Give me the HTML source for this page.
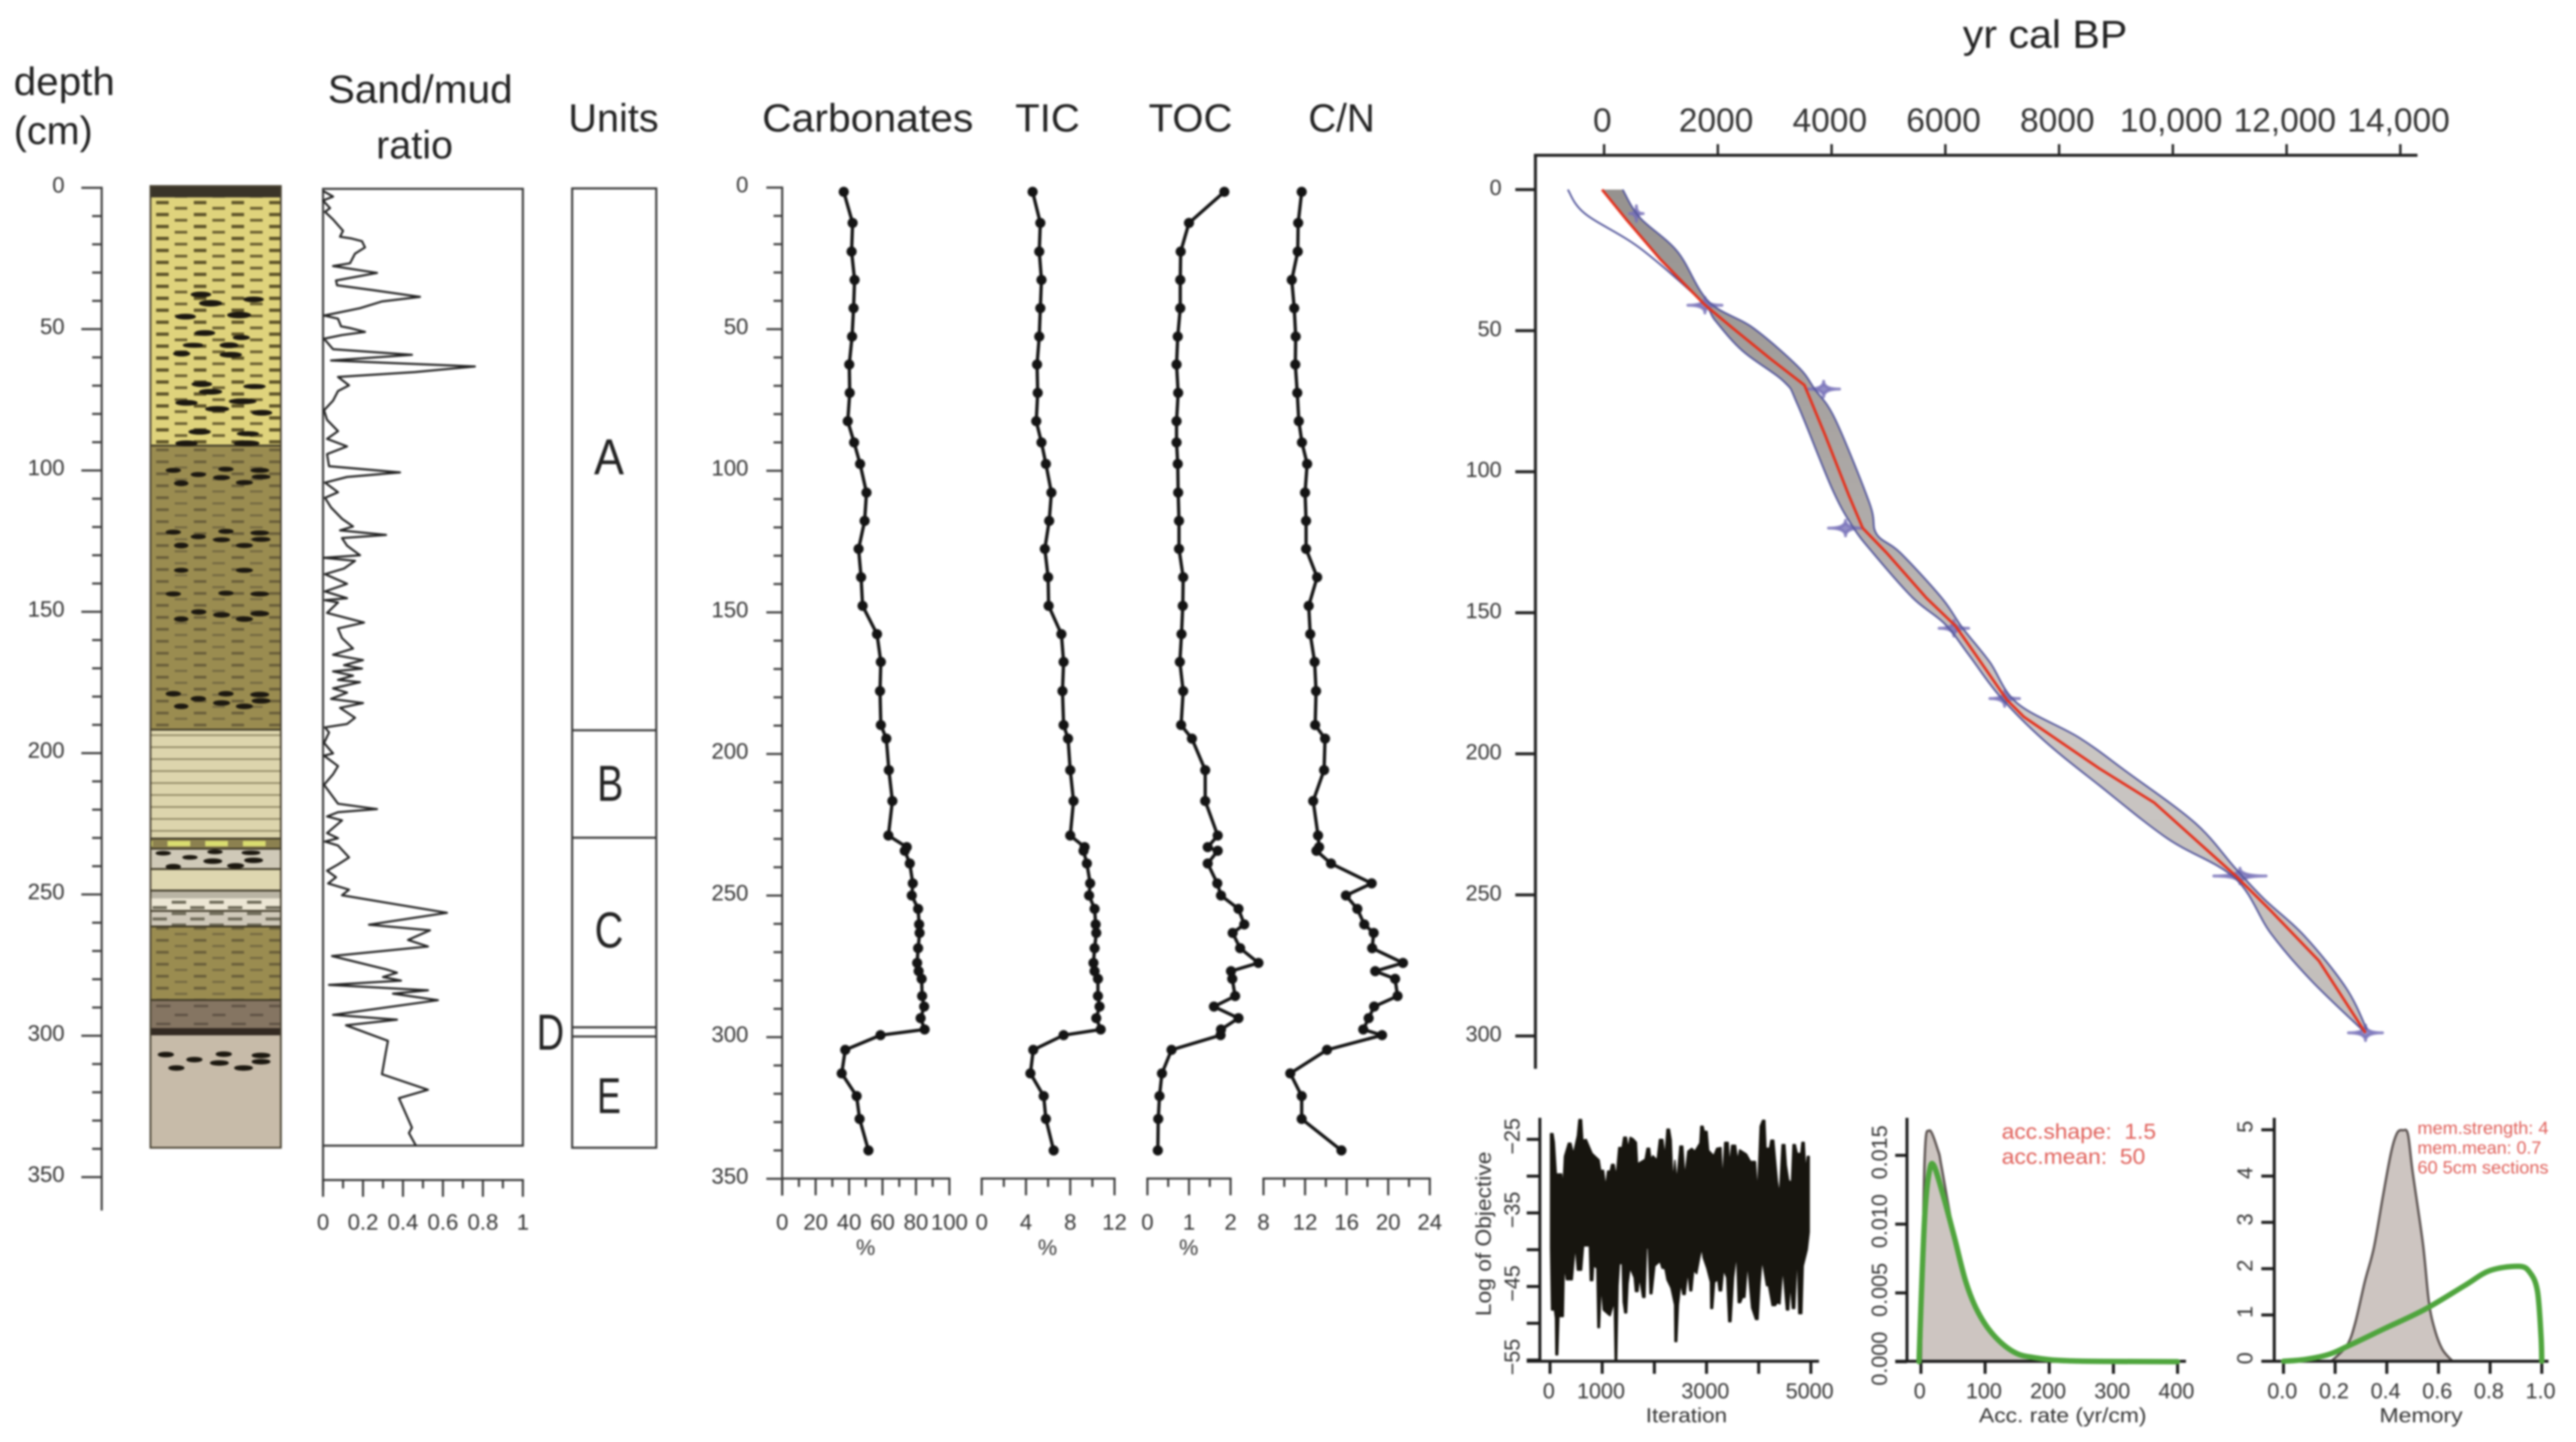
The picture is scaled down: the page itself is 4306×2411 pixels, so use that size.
<!DOCTYPE html>
<html>
<head>
<meta charset="utf-8">
<title>Core stratigraphy and age-depth model</title>
<style>
html,body{margin:0;padding:0;background:#fff;width:4306px;height:2411px;overflow:hidden}
svg{display:block;filter:blur(1.5px)}
text{font-family:"Liberation Sans",sans-serif;fill:#333}
.head{font-size:66px;fill:#222}
.unit{font-size:84px;fill:#222}
.red{fill:#e0605a}
</style>
</head>
<body>
<svg id="fig" xmlns="http://www.w3.org/2000/svg" width="4306" height="2411" viewBox="0 0 4306 2411">
<defs>
<pattern id="dashY" width="63" height="20" patternUnits="userSpaceOnUse" x="251" y="336"><rect width="63" height="20" fill="#dfd37c"/><rect x="10" y="0" width="21" height="5.5" fill="#5e5428"/><rect x="41" y="10" width="21" height="4.5" fill="#6a5f30"/></pattern>
<pattern id="dashO" width="63" height="20" patternUnits="userSpaceOnUse" x="251" y="750"><rect width="63" height="20" fill="#9a8c50"/><rect x="10" y="0" width="21" height="4.5" fill="#6a5f3a"/><rect x="41" y="10" width="21" height="3.5" fill="#756a42"/></pattern>
<pattern id="dashB" width="63" height="30" patternUnits="userSpaceOnUse" x="251" y="1680"><rect width="63" height="30" fill="#857562"/><rect x="10" y="0" width="24" height="4" fill="#5f5244"/><rect x="41" y="15" width="24" height="4" fill="#5f5244"/></pattern>
<pattern id="dashW" width="63" height="19" patternUnits="userSpaceOnUse" x="251" y="1506"><rect x="36" y="0" width="24" height="5" fill="#6e6a58"/><rect x="4" y="9" width="24" height="5" fill="#6e6a58"/></pattern>
<pattern id="lineC" width="63" height="20" patternUnits="userSpaceOnUse" x="251" y="1228"><rect width="63" height="20" fill="#ddd5ad"/><rect y="0" width="63" height="2.5" fill="#8d8563"/></pattern>
<pattern id="yellowBlock" width="63" height="16" patternUnits="userSpaceOnUse" x="280" y="1403"><rect width="63" height="16" fill="#8c8150"/><rect x="0" y="3" width="38" height="9" fill="#d9dc70"/></pattern>
<linearGradient id="bandFill" x1="0" y1="0" x2="0" y2="1"><stop offset="0" stop-color="#96928f"/><stop offset=".4" stop-color="#b0acaa"/><stop offset=".6" stop-color="#cbc7c4"/><stop offset="1" stop-color="#c2bebb"/></linearGradient>
</defs>
<rect width="4306" height="2411" fill="#fff"/>

<!-- headings -->
<text class="head" x="23" y="159" textLength="169" lengthAdjust="spacingAndGlyphs">depth</text>
<text class="head" x="23" y="241">(cm)</text>
<text class="head" x="548" y="172" textLength="309" lengthAdjust="spacingAndGlyphs">Sand/mud</text>
<text class="head" x="693" y="265" text-anchor="middle">ratio</text>
<text class="head" x="950" y="220" textLength="151" lengthAdjust="spacingAndGlyphs">Units</text>
<text class="head" x="1274" y="220" textLength="353" lengthAdjust="spacingAndGlyphs">Carbonates</text>
<text class="head" x="1697" y="220" textLength="108" lengthAdjust="spacingAndGlyphs">TIC</text>
<text class="head" x="1920" y="220" textLength="140" lengthAdjust="spacingAndGlyphs">TOC</text>
<text class="head" x="2187" y="220" textLength="111" lengthAdjust="spacingAndGlyphs">C/N</text>
<text class="head" x="3281" y="80" textLength="275" lengthAdjust="spacingAndGlyphs">yr cal BP</text>

<!-- lithology column -->
<g stroke="none">
<rect x="251.5" y="311" width="218" height="19" fill="#3a3428"/>
<rect x="251.5" y="330" width="218" height="415" fill="url(#dashY)"/>
<rect x="251.5" y="745" width="218" height="475" fill="url(#dashO)"/>
<rect x="251.5" y="1220" width="218" height="181" fill="url(#lineC)"/>
<rect x="251.5" y="1401" width="218" height="18" fill="url(#yellowBlock)"/>
<rect x="251.5" y="1419" width="218" height="34" fill="#cfc9b8"/>
<rect x="251.5" y="1453" width="218" height="36" fill="#ded7b0"/>
<rect x="251.5" y="1489" width="218" height="13" fill="#b9b4a4"/>
<rect x="251.5" y="1502" width="218" height="21" fill="#ece6d4"/>
<rect x="251.5" y="1523" width="218" height="25" fill="#cfc8b9"/>
<rect x="251.5" y="1502" width="218" height="46" fill="url(#dashW)"/>
<rect x="251.5" y="1548" width="218" height="124" fill="url(#dashO)"/>
<rect x="251.5" y="1672" width="218" height="47" fill="url(#dashB)"/>
<rect x="251.5" y="1719" width="218" height="12" fill="#332a22"/>
<rect x="251.5" y="1731" width="218" height="188" fill="#c7bba9"/>
<g stroke="#3d3725" stroke-width="3">
<line x1="251" x2="470" y1="745" y2="745"/>
<line x1="251" x2="470" y1="1220" y2="1220"/>
<line x1="251" x2="470" y1="1402" y2="1402"/>
<line x1="251" x2="470" y1="1419" y2="1419"/>
<line x1="251" x2="470" y1="1453" y2="1453"/>
<line x1="251" x2="470" y1="1489" y2="1489"/>
<line x1="251" x2="470" y1="1523" y2="1523"/>
<line x1="251" x2="470" y1="1549" y2="1549"/>
<line x1="251" x2="470" y1="1672" y2="1672"/>
</g>
<g fill="#1c1810" stroke="#1c1810" stroke-width="3" transform="scale(.7334,.6378)">
<ellipse cx="458" cy="772" rx="22" ry="6"/><ellipse cx="480" cy="795" rx="25" ry="7"/><ellipse cx="578" cy="785" rx="22" ry="6"/><ellipse cx="423" cy="830" rx="22" ry="6"/><ellipse cx="545" cy="826" rx="26" ry="7"/><ellipse cx="467" cy="873" rx="22" ry="6"/><ellipse cx="550" cy="885" rx="18" ry="5"/><ellipse cx="440" cy="905" rx="22" ry="5"/><ellipse cx="522" cy="905" rx="20" ry="6"/><ellipse cx="414" cy="927" rx="18" ry="6"/><ellipse cx="526" cy="930" rx="24" ry="6"/><ellipse cx="460" cy="1007" rx="22" ry="6"/><ellipse cx="480" cy="1027" rx="25" ry="6"/><ellipse cx="580" cy="1013" rx="24" ry="5"/><ellipse cx="425" cy="1056" rx="24" ry="6"/><ellipse cx="553" cy="1052" rx="30" ry="6"/><ellipse cx="495" cy="1072" rx="26" ry="6"/><ellipse cx="597" cy="1082" rx="22" ry="6"/><ellipse cx="455" cy="1132" rx="24" ry="6"/><ellipse cx="565" cy="1137" rx="24" ry="5"/><ellipse cx="425" cy="1162" rx="24" ry="6"/><ellipse cx="562" cy="1162" rx="28" ry="6"/>
<ellipse cx="395" cy="1233" rx="16" ry="5"/><ellipse cx="452" cy="1244" rx="16" ry="5"/><ellipse cx="515" cy="1230" rx="16" ry="5"/><ellipse cx="592" cy="1233" rx="20" ry="5"/><ellipse cx="595" cy="1250" rx="20" ry="5"/><ellipse cx="505" cy="1252" rx="18" ry="5"/><ellipse cx="413" cy="1267" rx="15" ry="6"/><ellipse cx="557" cy="1265" rx="18" ry="5"/>
<ellipse cx="395" cy="1395" rx="16" ry="5"/><ellipse cx="452" cy="1407" rx="16" ry="5"/><ellipse cx="515" cy="1393" rx="16" ry="5"/><ellipse cx="592" cy="1397" rx="20" ry="5"/><ellipse cx="595" cy="1414" rx="20" ry="5"/><ellipse cx="505" cy="1415" rx="18" ry="5"/><ellipse cx="413" cy="1430" rx="15" ry="6"/><ellipse cx="557" cy="1430" rx="18" ry="5"/><ellipse cx="413" cy="1495" rx="15" ry="5"/><ellipse cx="557" cy="1495" rx="18" ry="5"/><ellipse cx="395" cy="1557" rx="16" ry="5"/><ellipse cx="515" cy="1555" rx="16" ry="5"/><ellipse cx="592" cy="1557" rx="20" ry="5"/>
</g>
<g fill="#1c1810" stroke="#1c1810" stroke-width="3" transform="translate(0,1000) scale(.7334,.7015)">
<ellipse cx="453" cy="33" rx="16" ry="5"/><ellipse cx="505" cy="40" rx="18" ry="5"/><ellipse cx="592" cy="37" rx="20" ry="5"/><ellipse cx="413" cy="50" rx="15" ry="5"/><ellipse cx="557" cy="50" rx="18" ry="5"/>
<ellipse cx="395" cy="228" rx="16" ry="5"/><ellipse cx="452" cy="240" rx="16" ry="5"/><ellipse cx="515" cy="228" rx="16" ry="5"/><ellipse cx="592" cy="230" rx="20" ry="5"/><ellipse cx="595" cy="245" rx="20" ry="5"/><ellipse cx="505" cy="250" rx="18" ry="5"/><ellipse cx="413" cy="258" rx="15" ry="5"/><ellipse cx="557" cy="258" rx="18" ry="5"/>
<ellipse cx="372" cy="608" rx="16" ry="4"/><ellipse cx="490" cy="605" rx="16" ry="4"/><ellipse cx="572" cy="607" rx="20" ry="4"/><ellipse cx="433" cy="618" rx="16" ry="4"/><ellipse cx="485" cy="627" rx="20" ry="5"/><ellipse cx="578" cy="625" rx="20" ry="5"/><ellipse cx="395" cy="640" rx="16" ry="5"/><ellipse cx="537" cy="638" rx="18" ry="5"/>
<ellipse cx="378" cy="1088" rx="17" ry="5"/><ellipse cx="443" cy="1100" rx="17" ry="5"/><ellipse cx="510" cy="1087" rx="17" ry="5"/><ellipse cx="595" cy="1090" rx="20" ry="5"/><ellipse cx="595" cy="1105" rx="20" ry="5"/><ellipse cx="500" cy="1108" rx="20" ry="5"/><ellipse cx="402" cy="1120" rx="17" ry="5"/><ellipse cx="555" cy="1120" rx="20" ry="5"/>
</g>
<rect x="251.5" y="311" width="218" height="1608" fill="none" stroke="#4a4434" stroke-width="3"/>
</g>

<!-- units column -->
<g>
<rect x="956.4" y="315" width="140.6" height="1604" fill="none" stroke="#3a3a3a" stroke-width="3.5"/>
<line x1="956" x2="1097" y1="1221" y2="1221" stroke="#3a3a3a" stroke-width="3.5"/>
<line x1="956" x2="1097" y1="1400.6" y2="1400.6" stroke="#3a3a3a" stroke-width="3.5"/>
<line x1="956" x2="1097" y1="1717.6" y2="1717.6" stroke="#3a3a3a" stroke-width="3.5"/>
<line x1="956" x2="1097" y1="1733" y2="1733" stroke="#3a3a3a" stroke-width="3.5"/>
<text class="unit" x="1018" y="793" text-anchor="middle" textLength="50" lengthAdjust="spacingAndGlyphs">A</text>
<text class="unit" x="1020" y="1339" text-anchor="middle" textLength="44" lengthAdjust="spacingAndGlyphs">B</text>
<text class="unit" x="1018" y="1584" text-anchor="middle" textLength="48" lengthAdjust="spacingAndGlyphs">C</text>
<text class="unit" x="920" y="1755" text-anchor="middle" textLength="46" lengthAdjust="spacingAndGlyphs">D</text>
<text class="unit" x="1018" y="1861" text-anchor="middle" textLength="40" lengthAdjust="spacingAndGlyphs">E</text>
</g>

<g id="charts"></g>

<text class="red" x="3346" y="1904" font-size="36" textLength="258" lengthAdjust="spacingAndGlyphs" xml:space="preserve">acc.shape:  1.5</text>
<text class="red" x="3346" y="1946" font-size="36" textLength="240" lengthAdjust="spacingAndGlyphs" xml:space="preserve">acc.mean:  50</text>
<text class="red" x="4041" y="1896" font-size="30" textLength="219" lengthAdjust="spacingAndGlyphs">mem.strength: 4</text>
<text class="red" x="4041" y="1929" font-size="30" textLength="207" lengthAdjust="spacingAndGlyphs">mem.mean: 0.7</text>
<text class="red" x="4041" y="1962" font-size="30" textLength="219" lengthAdjust="spacingAndGlyphs">60 5cm sections</text>
</svg>

<script>
// ---- depth axis ticks ----
const depthMajor = [0,50,100,150,200,250,300,350];
const depthMinor = [10,20,30,40,60,70,80,90,110,120,130,140,160,170,180,190,210,220,230,240,260,270,280,290,310,320,330,340];

// ---- sand/mud ratio ----
const sandDepths = [1.1,3.1,4.5,7.2,8.5,11.2,13.2,15.2,17.3,17.9,18.9,21.1,23.3,26.7,27.7,30.1,32.8,34.5,36.2,38.6,40.2,42.6,45.2,46.3,49,49.7,51,52.1,53.4,57.1,59.1,61.1,63.2,65.2,66.9,69.9,71.9,75.3,78.7,82.1,86.1,88.8,91.5,94.2,98.5,100.7,102.3,104.3,107.7,109.7,113.1,117.1,119.8,121.2,122.8,123.9,126.6,130,130.9,132,134.7,136.7,140.1,142.8,145.2,145.9,146.7,150.4,153.8,155.9,159.3,163,165.2,167.1,168.9,170.1,171.1,172.6,174.1,174.9,177.1,178.6,180.8,182.3,184,187.5,189.7,190.9,192.7,196.4,200.1,200.9,204.6,207.5,211.2,217.9,219.8,220.9,222.4,223.8,228.3,230.1,231.3,232.7,236.9,239.4,241.6,243.9,246.1,248.3,250.3,256.5,260.7,262.7,266.1,268.4,271.8,276.5,277.7,279.2,280.5,282,283.9,285.1,287.4,292.6,294.3,296.3,301.8,305.5,313.6,319.1,322.1,332.5,334.4,338.9];
const sandRatio = [0,.05,0,.035,.01,.05,.075,.1,.085,.14,.195,.21,.16,.135,.05,.27,.065,.07,.25,.485,.295,.185,.005,.075,.09,.14,.21,.095,.005,.05,.445,.04,.76,.46,.075,.13,.075,.05,.005,.02,.075,.02,.12,.02,.03,.385,.12,.01,.075,.01,.04,.095,.15,.085,.315,.095,.12,.185,.005,.16,.105,.01,.12,.01,.12,.01,.075,.02,.205,.075,.095,.15,.05,.2,.105,.195,.05,.15,.075,.185,.05,.12,.04,.2,.085,.16,.12,.01,.03,.005,.05,.005,.075,.05,.005,.075,.27,.075,.02,.095,.02,.075,.01,.075,.13,.075,.02,.065,.025,.13,.095,.62,.23,.535,.425,.525,.045,.315,.37,.3,.39,.03,.525,.35,.575,.05,.37,.115,.325,.315,.295,.525,.38,.445,.43,.465];
const sandTicks = [0,.2,.4,.6,.8,1];
const sandTickLabels = ['0','0.2','0.4','0.6','0.8','1'];
const sandMinor = [.1,.3,.5,.7,.9];

// ---- geochemistry ----
const geoDepths = [1.5,12.5,22.6,32.6,42.6,52.6,62.5,72.5,82.5,90,97.6,107.7,117.7,127.6,137.6,147.7,157.7,167.5,177.8,189.8,194.6,205.7,216.6,228.8,232.9,234.2,238.7,245.7,250,254.7,260.2,263.2,268.6,273.8,276.7,279.4,285.5,289.2,293.3,297.3,299.3,304.5,312.8,320.8,328.9,340];
const carbonates = [36.8,42.1,41.5,43.3,42.7,41.8,40.1,40.4,39.2,43,46.6,50.4,49.3,45.7,47.2,48.1,56.7,59,58.5,59,62.3,63.8,65.9,63.5,74.5,73.3,76.3,78.1,77.5,81.3,81.9,82.2,81.3,80.7,81.6,83.4,83.7,84.9,82.8,85.2,58.8,37.7,35.6,44.5,46.3,51.6];
const tic = [4.6,5.3,5.2,5.4,5.3,5.2,5,5.06,4.93,5.4,5.8,6.3,6.1,5.7,6,6.05,7.2,7.4,7.3,7.4,7.8,8,8.3,8,9.3,9.2,9.5,9.8,9.7,10.2,10.3,10.35,10.2,10.1,10.2,10.5,10.5,10.65,10.35,10.75,7.4,4.66,4.4,5.6,5.8,6.5];
const toc = [1.85,1,.8,.79,.79,.73,.7,.74,.7,.7,.73,.74,.76,.76,.86,.85,.82,.78,.86,.81,1.07,1.39,1.39,1.69,1.45,1.69,1.45,1.68,1.77,2.19,2.33,2.05,2.23,2.67,2.01,2.04,2.11,1.6,2.19,1.77,1.76,.58,.35,.29,.26,.25];
const cn = [11.68,11.34,11.3,10.72,10.96,11.1,11.06,11.25,11.4,11.7,12.2,12,12.1,12.1,13.16,12.35,12.5,12.92,13.06,12.97,13.92,13.83,12.78,13.25,13.35,13.1,14.5,18.41,15.93,17.03,17.7,18.6,18.46,21.42,18.75,20.66,20.9,18.65,18.12,17.6,19.41,14.11,10.58,11.68,11.68,15.5];
const carbTicks = [0,20,40,60,80,100];
const carbMinor = [10,30,50,70,90];
const ticTicks = [0,4,8,12];
const ticMinor = [2,6,10];
const tocTicks = [0,1,2];
const tocMinor = [.5,1.5];
const cnTicks = [8,12,16,20,24];
const cnMinor = [10,14,18,22];

// ---- age-depth model ----
const ageTicks = [0,2000,4000,6000,8000,10000,12000,14000];
const ageTickLabels = ['0','2000','4000','6000','8000','10,000','12,000','14,000'];
const modelDepthTicks = [0,50,100,150,200,250,300];
const meanDepths = [0,10.5,24.7,40.9,49,59.9,69.3,86.9,108.5,120,128.8,144.8,154.6,165,180.8,186.9,205.2,217.3,243.5,255.6,273.3,298.9];
const meanAges = [-36,386,989,1773,2255,2919,3522,3883,4305,4547,4969,5668,6175,6537,7079,7381,8707,9672,11119,11722,12566,13387];
const lowerDepths = [0,8.5,20.7,39.6,46.4,57.2,68,76.1,105.8,119.3,128.8,144.7,154,165,179.6,195.4,211.2,230.1,244.1,263.6,280.6,298.9];
const lowerAges = [-639,-338,627,1713,1954,2436,3160,3401,4004,4366,4728,5427,5994,6416,6959,7743,8707,9913,11095,11722,12446,13387];
const upperDepths = [0,9.9,22,39.6,49,62.6,70.7,81.5,111.2,122,128.8,144.7,155.2,167.4,182,194.2,206.4,224.6,240.5,251.4,264.8,283.1,297.7];
const upperAges = [326,627,1290,1833,2617,3401,3702,4064,4667,4788,5210,5934,6295,6778,7260,8346,9190,10396,11095,11602,12325,13049,13411];
const dateDepths = [8.5,41,70.7,120,155.5,180.4,243.3,298.9];
const dateAges = [567,1773,3860,4245,6150,7043,11180,13387];
const dateSpread = [120,300,280,300,260,260,460,300];

// ---- MCMC trace ----
const traceUpperIter = [8,57,84,122,225,248,275,351,401,447,523,553,607,630,695,809,943,973,1027,1065,1103,1153,1179,1229,1267,1317,1382,1412,1466,1496,1534,1592,1657,1679,1821,1859,1909,1935,1973,2050,2096,2164,2202,2241,2290,2325,2355,2393,2431,2489,2546,2584,2641,2718,2775,2870,2889,2935,2958,3012,3042,3138,3195,3279,3309,3347,3416,3443,3481,3557,3596,3634,3767,3844,3939,3977,4027,4073,4119,4141,4206,4233,4290,4321,4359,4397,4447,4504,4531,4577,4626,4657,4703,4741,4806,4828,4874,4901,4932,4970];
const traceUpper = [-24.2,-24.2,-25.4,-29.7,-29.7,-31.4,-27.3,-25.5,-25.5,-26.9,-24.5,-22.3,-22.3,-25.1,-25,-26.9,-27.8,-29.2,-29.2,-31.4,-29.3,-29.3,-28.4,-28.4,-30,-26.1,-26.1,-24.7,-24.7,-26.2,-24.7,-24.9,-25.4,-28.3,-27.7,-26.2,-26.2,-27.7,-27.2,-27.8,-25,-25,-27.3,-23.6,-23.6,-25.1,-30.6,-27.8,-30.6,-25.9,-25.9,-30,-26.6,-26.2,-26.6,-25.5,-23.2,-23.2,-23.9,-23.9,-26.5,-27.2,-26.2,-26.1,-30.6,-25.4,-25.4,-28.4,-25.8,-25.8,-27.8,-26.4,-27,-28,-28,-32.2,-23.2,-22.4,-22.4,-26.2,-26.2,-25.1,-25.1,-27.6,-30.6,-32.5,-25.7,-25.7,-28.5,-30.6,-30.8,-25.7,-25.7,-26.9,-26.9,-25.4,-25.4,-29.2,-27.3,-27.3];
const traceLowerIter = [8,27,84,103,111,149,172,256,275,313,428,485,523,607,645,752,771,821,836,897,916,950,981,1019,1115,1153,1229,1248,1279,1305,1332,1382,1401,1431,1470,1496,1534,1611,1637,1687,1714,1775,1821,1851,1882,1916,1954,2012,2107,2145,2202,2241,2317,2386,2393,2431,2462,2508,2546,2592,2641,2680,2718,2756,2813,2870,2909,2935,3004,3073,3080,3119,3157,3214,3241,3290,3328,3386,3424,3470,3519,3576,3607,3653,3691,3737,3786,3863,3939,3989,4027,4065,4149,4187,4256,4321,4359,4409,4462,4531,4577,4607,4645,4691,4741,4767,4828,4855,4932,4970];
const traceLower = [-39.8,-48.2,-48.2,-49.3,-54.3,-54.3,-49.1,-49.1,-42.2,-44.1,-44.1,-39.5,-42.8,-42.8,-39.5,-39.5,-44.2,-44.2,-42.2,-42.5,-50.6,-50.6,-44.9,-48.2,-48.8,-49,-47.1,-55.1,-55.1,-44.9,-41.9,-41.9,-47.1,-48.6,-48.6,-44.6,-42.5,-43.8,-45.7,-45.7,-43.8,-46.5,-46.5,-39.8,-39.8,-46,-46,-42.2,-41.6,-42.5,-42.6,-44.1,-45.2,-47.5,-52.5,-52.5,-47.5,-44.6,-46.1,-46.1,-43,-45.6,-45.6,-42.8,-43.3,-41.1,-39.8,-41.1,-42.5,-44.4,-48,-48,-44.4,-44.1,-45.6,-45.6,-42.8,-43.8,-49.8,-49.8,-43.8,-40.6,-47.2,-47.2,-46.5,-46.5,-41.9,-47.9,-49.5,-49.5,-44.6,-41.4,-44.9,-44.9,-47.6,-47.6,-47.2,-47.4,-42.5,-48.2,-48.2,-44.6,-48,-48,-40.3,-48.7,-48.7,-42.2,-40,-37.6];
const iterTicks = [0,1000,2000,3000,4000,5000];
const iterLabels = ['0','1000','','3000','','5000'];
const logTicks = [-25,-30,-35,-40,-45,-50,-55];
const logLabels = ['\u221225','','\u221235','','\u221245','','\u221255'];

// ---- accumulation rate ----
const accTicks = [0,100,200,300,400];
const accDensityTicks = [0,.005,.01,.015];
const accDensityLabels = ['0.000','0.005','0.010','0.015'];
const accPostRate = [0,5.6,13,27,32,52,71,90,114,145,176,240,300];
const accPostDensity = [0,.0145,.0168,.0153,.0142,.0091,.0058,.0036,.0019,.0007,.0003,.00005,0];
const accPriorRate = [-3,2,6.7,13,19.6,33.4,51.8,70,89,113.8,145,176,238,400];
const accPriorDensity = [0,.00648,.0112,.0138,.0143,.0123,.0091,.0058,.0036,.0019,.0007,.0003,.00005,0];

// ---- memory ----
const memTicks = [0,.2,.4,.6,.8,1];
const memLabels = ['0.0','0.2','0.4','0.6','0.8','1.0'];
const memDensityTicks = [0,1,2,3,4,5];
const memPostX = [.185,.245,.277,.315,.35,.384,.417,.44,.463,.482,.5,.54,.563,.586,.616,.655];
const memPostY = [0,.335,.81,1.72,2.45,3.53,4.52,4.93,4.99,4.9,4.09,2.53,1.28,.68,.25,0];
const memPriorX = [0,.084,.177,.254,.393,.547,.7,.8,.913,.955,.983,.997,1];
const memPriorY = [0,.04,.15,.34,.71,1.12,1.63,1.96,2.05,1.91,1.52,.55,0];

const NS = 'http://www.w3.org/2000/svg';
const root = document.getElementById('charts');
function mk(tag, parent, attrs, txt) {
  const e = document.createElementNS(NS, tag);
  for (const k in attrs) e.setAttribute(k, attrs[k]);
  if (txt !== undefined) e.textContent = txt;
  parent.appendChild(e);
  return e;
}
function group(name) {
  const g = mk('g', root, {});
  
  
  return g;
}
function seg(g, name, x1, y1, x2, y2, w, col) {
  const l = mk('line', g, {x1:x1, y1:y1, x2:x2, y2:y2, stroke:col, 'stroke-width':w});
  
  
  return l;
}
function label(g, name, x, y, s, fs, anchor, rot) {
  if (s === '') return null;
  const a = {x:x, y:y, 'font-size':fs, 'text-anchor':anchor || 'middle'};
  if (rot) a.transform = 'rotate(-90 ' + x + ' ' + y + ')';
  const t = mk('text', g, a, s);
  
  
  return t;
}
function pathOf(xs, ys, sx, sy) {
  return xs.map((v, i) => (i ? 'L' : 'M') + sx(v).toFixed(1) + ' ' + sy(ys[i]).toFixed(1)).join('');
}
// Catmull-Rom smoothing through the read points
function smoothOf(xs, ys, sx, sy) {
  const P = xs.map((v, i) => [sx(v), sy(ys[i])]);
  let d = 'M' + P[0][0].toFixed(1) + ' ' + P[0][1].toFixed(1);
  for (let i = 0; i < P.length - 1; i++) {
    const p0 = P[Math.max(i - 1, 0)], p1 = P[i], p2 = P[i + 1], p3 = P[Math.min(i + 2, P.length - 1)];
    const c1x = p1[0] + (p2[0] - p0[0]) / 6, c1y = p1[1] + (p2[1] - p0[1]) / 6;
    const c2x = p2[0] - (p3[0] - p1[0]) / 6, c2y = p2[1] - (p3[1] - p1[1]) / 6;
    d += 'C' + c1x.toFixed(1) + ' ' + c1y.toFixed(1) + ' ' + c2x.toFixed(1) + ' ' + c2y.toFixed(1) + ' ' + p2[0].toFixed(1) + ' ' + p2[1].toFixed(1);
  }
  return d;
}
function shape(g, name, d, attrs) {
  const p = mk('path', g, Object.assign({d:d}, attrs));
  
  
  return p;
}
// vertical depth axis with major and minor ticks and right-aligned labels
function depthAxis(name, sy, x, yEnd, majLeft, minLeft, labRight, dy, col, w, majors, minors) {
  const g = group(name);
  seg(g, name + '-line', x, sy(majors[0]) - w / 2, x, yEnd, w, col);
  majors.forEach(d => {
    seg(g, name + '-major-tick', majLeft, sy(d), x, sy(d), w, col);
    label(g, name + '-label', labRight, sy(d) + 13 + dy, String(d), 37, 'end');
  });
  minors.forEach(d => seg(g, name + '-minor-tick', minLeft, sy(d), x, sy(d), w, col));
}
// horizontal bottom axis
function bottomAxis(name, sx, y, ticks, labels, minors) {
  const g = group(name);
  const w = 3.5, col = '#3a3a3a';
  seg(g, name + '-line', sx(ticks[0]) - w / 2, y, sx(ticks[ticks.length - 1]) + w / 2, y, w, col);
  ticks.forEach((v, i) => {
    seg(g, name + '-major-tick', sx(v), y, sx(v), y + 28, w, col);
    label(g, name + '-label', sx(v), 2056, labels[i], 37);
  });
  minors.forEach(v => seg(g, name + '-minor-tick', sx(v), y, sx(v), y + 14, w, col));
}

// ---- left depth axis ----
const yL = d => 314 + 4.726 * d;
depthAxis('depth-axis', yL, 170, 2024, 136, 154, 108, -5, '#3c3c3c', 3.5, depthMajor, depthMinor);

// ---- sand/mud panel ----
const xS = v => 540 + 334 * v;
{
  const g = group('sand-mud-panel');
  const box = mk('rect', g, {x:540, y:315.7, width:334, height:1599.8, fill:'none', stroke:'#3a3a3a', 'stroke-width':3.5});
  
  
  seg(g, 'sand-mud-spine-extension', 540, 1915, 540, 1990, 3.5, '#3a3a3a');
  shape(g, 'sand-mud-line', pathOf(sandRatio, sandDepths, xS, yL), {fill:'none', stroke:'#222', 'stroke-width':3.5, 'stroke-linejoin':'round'});
}
bottomAxis('sand-mud-x-axis', xS, 1973, sandTicks, sandTickLabels, sandMinor);

// ---- geochemistry panels ----
const yG = d => 313.6 + 4.735 * d;
depthAxis('geochem-depth-axis', yG, 1307.5, 1999, 1281, 1293, 1251, -5, '#3c3c3c', 3.5, depthMajor, depthMinor);
function geoSeries(name, vals, sx) {
  const g = group(name + '-series');
  shape(g, name + '-line', pathOf(vals, geoDepths, sx, yG), {fill:'none', stroke:'#141414', 'stroke-width':5.5, 'stroke-linejoin':'round'});
  vals.forEach((v, i) => {
    const c = mk('circle', g, {cx:sx(v).toFixed(1), cy:yG(geoDepths[i]).toFixed(1), r:8.5, fill:'#141414'});
    
    
  });
}
const xCarb = v => 1307.5 + 2.795 * v;
const xTic = v => 1641 + 18.5 * v;
const xToc = v => 1918 + 69.5 * v;
const xCn = v => 2112 + 17.375 * (v - 8);
geoSeries('carbonates', carbonates, xCarb);
geoSeries('tic', tic, xTic);
geoSeries('toc', toc, xToc);
geoSeries('cn', cn, xCn);
bottomAxis('carbonates-x-axis', xCarb, 1970.5, carbTicks, carbTicks.map(String), carbMinor);
bottomAxis('tic-x-axis', xTic, 1970.5, ticTicks, ticTicks.map(String), ticMinor);
bottomAxis('toc-x-axis', xToc, 1970.5, tocTicks, tocTicks.map(String), tocMinor);
bottomAxis('cn-x-axis', xCn, 1970.5, cnTicks, cnTicks.map(String), cnMinor);
{
  const g = group('percent-unit-labels');
  label(g, 'carbonates-unit', 1447, 2098, '%', 36);
  label(g, 'tic-unit', 1751, 2098, '%', 36);
  label(g, 'toc-unit', 1987, 2098, '%', 36);
}

// ---- age-depth model ----
const xA = a => 2681.4 + 0.09507 * a;
const yA = d => 317 + 4.717 * d;
{
  const g = group('age-depth-axes');
  seg(g, 'age-axis-line', 2564, 259.6, 4041, 259.6, 5, '#222');
  seg(g, 'model-depth-axis-line', 2566.6, 259.6, 2566.6, 1787, 5, '#222');
  ageTicks.forEach((a, i) => {
    seg(g, 'age-tick', xA(a), 241, xA(a), 259.6, 4, '#222');
    label(g, 'age-tick-label', xA(a) - 3, 220, ageTickLabels[i], 56);
  });
  modelDepthTicks.forEach(d => {
    seg(g, 'model-depth-tick', 2533, yA(d), 2566.6, yA(d), 5, '#222');
    label(g, 'model-depth-label', 2510, yA(d) + 9, String(d), 36, 'end');
  });
}
{
  const g = group('age-depth-model');
  const fillLeftAges = meanAges.filter((a, i) => meanDepths[i] < 38).concat(lowerAges.filter((a, i) => lowerDepths[i] >= 39));
  const fillLeftDepths = meanDepths.filter(d => d < 38).concat(lowerDepths.filter(d => d >= 39));
  const band = smoothOf(upperAges, upperDepths, xA, yA) + smoothOf(fillLeftAges.slice().reverse(), fillLeftDepths.slice().reverse(), xA, yA).replace('M', 'L') + 'Z';
  shape(g, 'confidence-band', band, {fill:'url(#bandFill)', stroke:'none'});
  dateDepths.forEach((d, i) => {
    const x = xA(dateAges[i]), y = yA(d), hw = dateSpread[i] * 0.09507, h = 13;
    const p = 'M' + (x - hw) + ' ' + y + 'Q' + x + ' ' + y + ' ' + x + ' ' + (y - h) + 'Q' + x + ' ' + y + ' ' + (x + hw) + ' ' + y + 'Q' + x + ' ' + y + ' ' + x + ' ' + (y + h) + 'Q' + x + ' ' + y + ' ' + (x - hw) + ' ' + y + 'Z';
    shape(g, 'calibrated-date', p, {fill:'#7770b8', stroke:'#7770b8', 'stroke-width':5, 'stroke-linejoin':'round', 'fill-opacity':.8, 'stroke-opacity':.8});
  });
  shape(g, 'lower-bound-line', smoothOf(lowerAges, lowerDepths, xA, yA), {fill:'none', stroke:'#55589c', 'stroke-width':3, 'stroke-linejoin':'round'});
  shape(g, 'upper-bound-line', smoothOf(upperAges, upperDepths, xA, yA), {fill:'none', stroke:'#55589c', 'stroke-width':3, 'stroke-linejoin':'round'});
  shape(g, 'mean-age-line', pathOf(meanAges, meanDepths, xA, yA), {fill:'none', stroke:'#e5321e', 'stroke-width':4.5, 'stroke-linejoin':'round'});
}

// ---- small panels ----
function smallAxes(name, x0, xEnd, yBase, yAxisLeft, yTop, sx, xTicks, xLabels, sy, yTicks, yLabels, labX) {
  const g = group(name);
  seg(g, name + '-y-line', x0, yTop, x0, yBase + 2.5, 5, '#1c1c1c');
  seg(g, name + '-x-line', yAxisLeft, yBase, xEnd, yBase, 5, '#1c1c1c');
  xTicks.forEach((v, i) => {
    seg(g, name + '-x-tick', sx(v), yBase, sx(v), yBase + 21, 5, '#1c1c1c');
    label(g, name + '-x-label', sx(v) - 2, 2338, xLabels[i], 36);
  });
  yTicks.forEach((v, i) => {
    seg(g, name + '-y-tick', yAxisLeft, sy(v), x0, sy(v), 5, '#1c1c1c');
    label(g, name + '-y-label', labX, sy(v) - 5, yLabels[i], 36, 'middle', true);
  });
  return g;
}
// trace panel
const xI = i => 2591 + 0.0872 * i;
const yO = v => 1905 + (-25 - v) * 12.3;
{
  const g = group('trace-panel');
  const d = pathOf(traceUpperIter, traceUpper, xI, yO) + pathOf(traceLowerIter.slice().reverse(), traceLower.slice().reverse(), xI, yO).replace('M', 'L') + 'Z';
  shape(g, 'mcmc-trace', d, {fill:'#17150f', stroke:'#17150f', 'stroke-width':2, 'stroke-linejoin':'bevel'});
}
smallAxes('trace-axes', 2574, 3040.6, 2276, 2552, 1869, xI, iterTicks, iterLabels, yO, logTicks, logLabels, 2540);
// accumulation panel
const xR = a => 3211 + 1.0725 * a;
const yR = v => 2276.7 - 23000 * v;
{
  const g = group('accumulation-panel');
  shape(g, 'acc-posterior', smoothOf(accPostRate, accPostDensity, xR, yR) + 'Z', {fill:'#cdc5c1', stroke:'#5f5654', 'stroke-width':4});
}
smallAxes('accumulation-axes', 3187.7, 3654, 2276, 3168, 1869, xR, accTicks, accTicks.map(String), yR, accDensityTicks, accDensityLabels, 3154);
{
  const g = group('accumulation-prior');
  shape(g, 'acc-prior-curve', smoothOf(accPriorRate, accPriorDensity, xR, yR), {fill:'none', stroke:'#4fa53d', 'stroke-width':9, 'stroke-linejoin':'round', 'stroke-linecap':'round'});
}
// memory panel
const xM = m => 3817 + 431.8 * m;
const yM = v => 2276 - 77.4 * v;
{
  const g = group('memory-panel');
  shape(g, 'memory-posterior', smoothOf(memPostX, memPostY, xM, yM) + 'Z', {fill:'#cdc5c1', stroke:'#5f5654', 'stroke-width':4});
}
smallAxes('memory-axes', 3801.6, 4260, 2276, 3780, 1869, xM, memTicks, memLabels, yM, memDensityTicks, memDensityTicks.map(String), 3765);
{
  const g = group('memory-prior');
  shape(g, 'memory-prior-curve', smoothOf(memPriorX, memPriorY, xM, yM), {fill:'none', stroke:'#4fa53d', 'stroke-width':9, 'stroke-linejoin':'round', 'stroke-linecap':'round'});
}
{
  const g = group('small-panel-titles');
  const a = label(g, 'iteration-axis-title', 2819, 2378, 'Iteration', 34);
  a.setAttribute('textLength', '136');
  a.setAttribute('lengthAdjust', 'spacingAndGlyphs');
  const b = label(g, 'acc-rate-axis-title', 3448, 2378, 'Acc. rate (yr/cm)', 34);
  b.setAttribute('textLength', '280');
  b.setAttribute('lengthAdjust', 'spacingAndGlyphs');
  const c = label(g, 'memory-axis-title', 4047, 2378, 'Memory', 34);
  c.setAttribute('textLength', '139');
  c.setAttribute('lengthAdjust', 'spacingAndGlyphs');
  const e = label(g, 'log-objective-axis-title', 2492, 2063, 'Log of Objective', 36, 'middle', true);
  e.setAttribute('textLength', '275');
  e.setAttribute('lengthAdjust', 'spacingAndGlyphs');
}
</script>
</body>
</html>
